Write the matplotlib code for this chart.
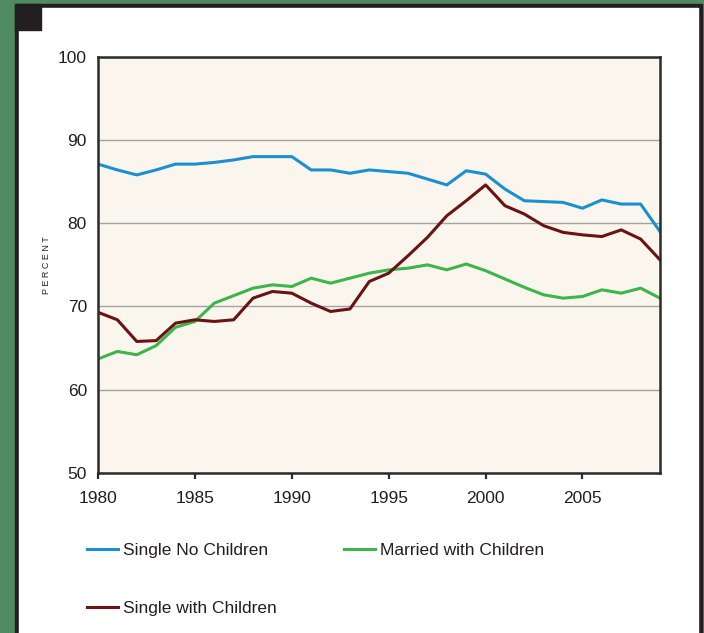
import matplotlib.pyplot as plt
from matplotlib.patches import Rectangle
from matplotlib.lines import Line2D

plt.rcParams['font.family'] = ['Liberation Sans', 'DejaVu Sans']

years = list(range(1980, 2010))
single_no_children = [87.1, 86.4, 85.8, 86.4, 87.1, 87.1, 87.3, 87.6, 88.0, 88.0,
                      88.0, 86.4, 86.4, 86.0, 86.4, 86.2, 86.0, 85.3, 84.6, 86.3,
                      85.9, 84.1, 82.7, 82.6, 82.5, 81.8, 82.8, 82.3, 82.3, 79.0]
married_with_children = [63.7, 64.6, 64.2, 65.3, 67.5, 68.2, 70.4, 71.3, 72.2, 72.6,
                         72.4, 73.4, 72.8, 73.4, 74.0, 74.4, 74.6, 75.0, 74.4, 75.1,
                         74.3, 73.3, 72.3, 71.4, 71.0, 71.2, 72.0, 71.6, 72.2, 71.0]
single_with_children = [69.3, 68.4, 65.8, 65.9, 68.0, 68.4, 68.2, 68.4, 71.0, 71.8,
                        71.6, 70.4, 69.4, 69.7, 73.0, 74.0, 76.1, 78.3, 80.9, 82.7,
                        84.6, 82.1, 81.1, 79.7, 78.9, 78.6, 78.4, 79.2, 78.1, 75.6]

x_ticks = [1980, 1985, 1990, 1995, 2000, 2005]
y_ticks = [50, 60, 70, 80, 90, 100]

c_blue = '#1c8fd0'
c_green = '#3db54a'
c_red = '#6b1212'

W, H = 704, 633
fig = plt.figure(figsize=(W / 100, H / 100), dpi=100, facecolor='#4f8a60')

# frame around the panel
fig.patches.append(Rectangle((15 / W, 0), (702 - 15) / W, (H - 4) / H,
                             transform=fig.transFigure, color='#231f20', zorder=-3))
fig.patches.append(Rectangle((19 / W, 0), (698 - 19) / W, (H - 8) / H,
                             transform=fig.transFigure, color='white', zorder=-2))
fig.patches.append(Rectangle((15 / W, 1 - 30 / H), 26 / W, 26 / H,
                             transform=fig.transFigure, color='#231f20', zorder=-1))

ax = fig.add_axes([98 / W, 1 - 473 / H, (660 - 98) / W, (473 - 56.7) / H])
ax.set_facecolor('#faf6ee')

ax.plot(years, single_no_children, color=c_blue, lw=2.2)
ax.plot(years, married_with_children, color=c_green, lw=2.2)
ax.plot(years, single_with_children, color=c_red, lw=2.2)

ax.set_xlim(1980, 2009)
ax.set_ylim(50, 100)
ax.set_xticks(x_ticks)
ax.set_yticks(y_ticks)
ax.grid(axis='y', color='#a3a3a3', lw=1.0)
ax.set_axisbelow(True)
for s in ax.spines.values():
    s.set_color('#2b2b2b')
    s.set_linewidth(1.8)
ax.tick_params(axis='x', length=4, width=1.6, color='#2b2b2b', pad=9,
               labelsize=12.5, labelcolor='#231f20')
ax.tick_params(axis='y', length=0, pad=8, labelsize=12.5, labelcolor='#231f20')
ax.set_ylabel('P E R C E N T', fontsize=6.5, labelpad=5, color='#231f20')

entries = [
    ('Single No Children', c_blue, 87, 550),
    ('Married with Children', c_green, 344, 550),
    ('Single with Children', c_red, 87, 608),
]
for label, col, px, py in entries:
    h = Line2D([], [], color=col, lw=2.2)
    fig.legend([h], [label], loc='center left', bbox_to_anchor=(px / W, 1 - py / H),
               frameon=False, fontsize=12.5, handlelength=1.8, handletextpad=0.3,
               borderpad=0, borderaxespad=0, labelcolor='#231f20')

fig.savefig('out.png', dpi=100, facecolor=fig.get_facecolor())
